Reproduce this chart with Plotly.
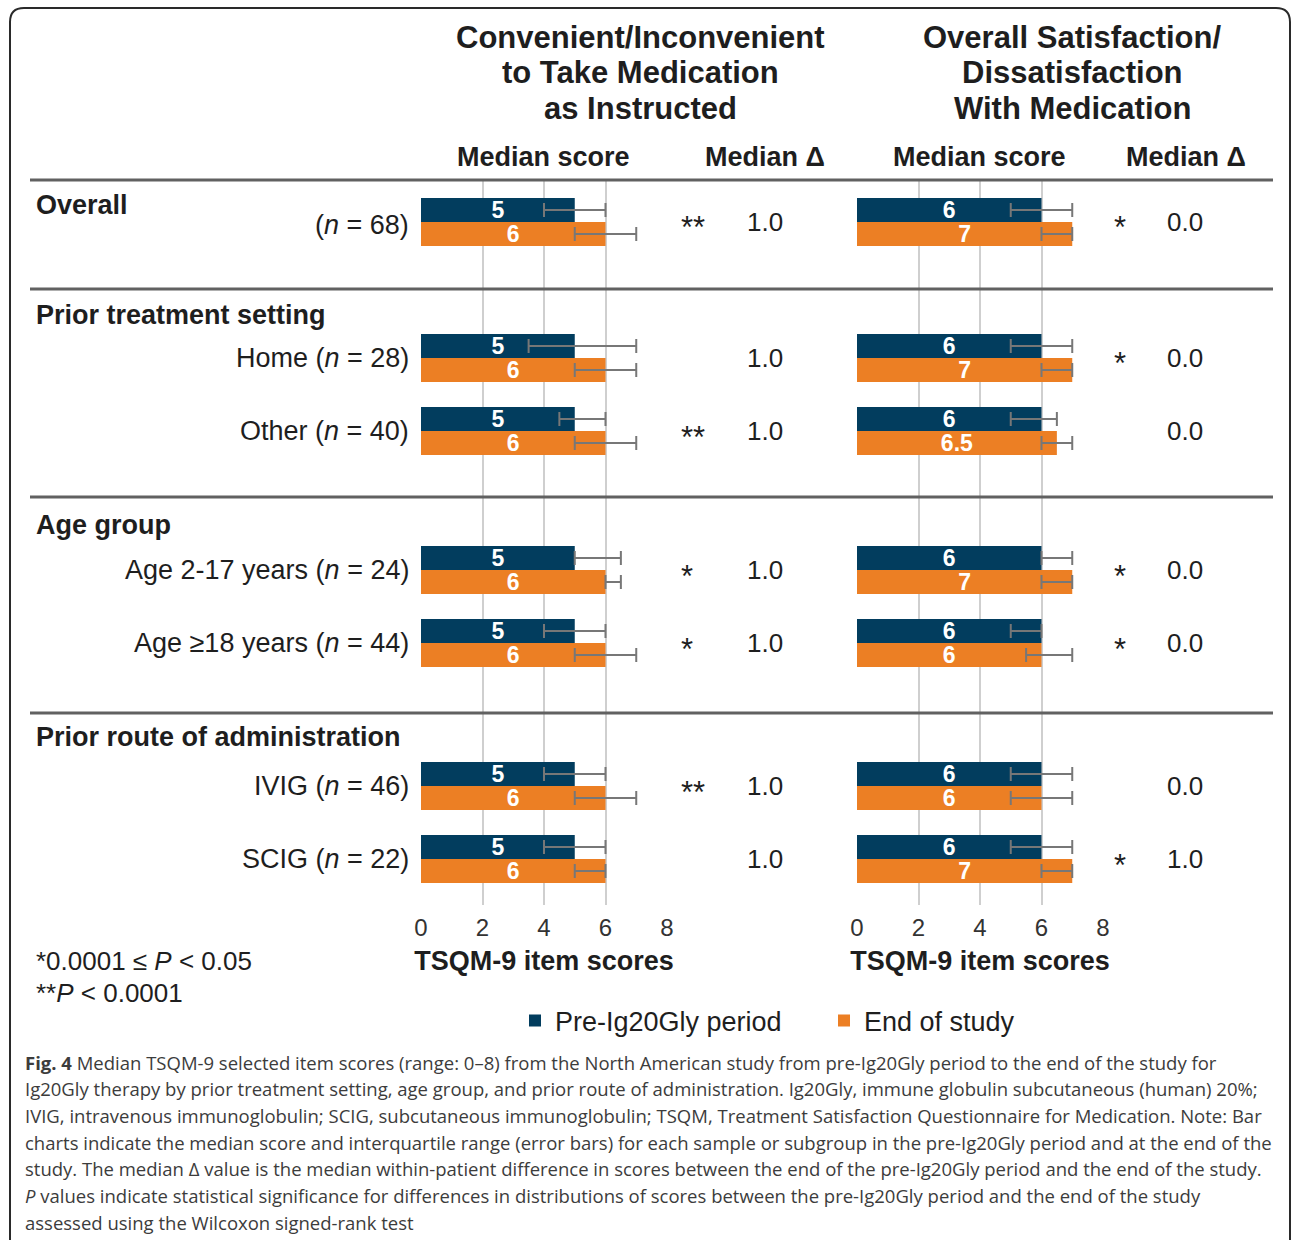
import plotly.graph_objects as go

W, H = 1292, 1240

# ---------------- data ----------------
group_titles = ["Overall", "Prior treatment setting", "Age group", "Prior route of administration"]
subgroups = ["", "Home", "Other", "Age 2-17 years", "Age \u226518 years", "IVIG", "SCIG"]
n_values = [68, 28, 40, 24, 44, 46, 22]

# Convenient/Inconvenient to take medication as instructed
conv_pre = [5, 5, 5, 5, 5, 5, 5]
conv_pre_q1 = [4, 3.5, 4.5, 5, 4, 4, 4]
conv_pre_q3 = [6, 7, 6, 6.5, 6, 6, 6]
conv_end = [6, 6, 6, 6, 6, 6, 6]
conv_end_q1 = [5, 5, 5, 6, 5, 5, 5]
conv_end_q3 = [7, 7, 7, 6.5, 7, 7, 6]
conv_delta = [1.0, 1.0, 1.0, 1.0, 1.0, 1.0, 1.0]
conv_sig = ["**", "", "**", "*", "*", "**", ""]

# Overall satisfaction/dissatisfaction with medication
sat_pre = [6, 6, 6, 6, 6, 6, 6]
sat_pre_q1 = [5, 5, 5, 6, 5, 5, 5]
sat_pre_q3 = [7, 7, 6.5, 7, 6, 7, 7]
sat_end = [7, 7, 6.5, 7, 6, 6, 7]
sat_end_q1 = [6, 6, 6, 6, 5.5, 5, 6]
sat_end_q3 = [7, 7, 7, 7, 7, 7, 7]
sat_delta = [0.0, 0.0, 0.0, 0.0, 0.0, 0.0, 1.0]
sat_sig = ["*", "*", "", "*", "*", "", "*"]

x_ticks = [0, 2, 4, 6, 8]
series_names = ["Pre-Ig20Gly period", "End of study"]

caption_lines = [
    "<b>Fig. 4</b> Median TSQM-9 selected item scores (range: 0\u20138) from the North American study from pre-Ig20Gly period to the end of the study for",
    "Ig20Gly therapy by prior treatment setting, age group, and prior route of administration. Ig20Gly, immune globulin subcutaneous (human) 20%;",
    "IVIG, intravenous immunoglobulin; SCIG, subcutaneous immunoglobulin; TSQM, Treatment Satisfaction Questionnaire for Medication. Note: Bar",
    "charts indicate the median score and interquartile range (error bars) for each sample or subgroup in the pre-Ig20Gly period and at the end of the",
    "study. The median \u0394 value is the median within-patient difference in scores between the end of the pre-Ig20Gly period and the end of the study.",
    "<i>P</i> values indicate statistical significance for differences in distributions of scores between the pre-Ig20Gly period and the end of the study",
    "assessed using the Wilcoxon signed-rank test",
]

# ---------------- layout constants (pixels) ----------------
FONT = "Arial, Liberation Sans, Helvetica, sans-serif"
CAP_FONT = "Open Sans, Noto Sans, sans-serif"
TXT = "#1e1e1e"
NAVY = "#023d5e"
ORANGE = "#ec7f24"
ERR = "#777777"

row_y = [222, 358, 431, 570, 643, 786, 859]
group_title_y = [205, 315, 525, 737]
separator_y = [180, 289, 497, 713]
plot_top, plot_bottom = 180, 905
bar_h = 24
panels = [(421, 667), (857, 1103)]


def px(x):
    return x / W


def py(y):
    return 1 - y / H


fig = go.Figure()

panel_data = [
    (conv_pre, conv_pre_q1, conv_pre_q3, conv_end, conv_end_q1, conv_end_q3),
    (sat_pre, sat_pre_q1, sat_pre_q3, sat_end, sat_end_q1, sat_end_q3),
]

for p, (pre, pre_q1, pre_q3, end, end_q1, end_q3) in enumerate(panel_data):
    xa = "x" if p == 0 else "x2"
    for s, (vals, q1, q3, color, offset) in enumerate([
        (pre, pre_q1, pre_q3, NAVY, -bar_h / 2),
        (end, end_q1, end_q3, ORANGE, bar_h / 2),
    ]):
        fig.add_trace(go.Bar(
            x=vals,
            y=[r + offset for r in row_y],
            width=bar_h,
            orientation="h",
            name=series_names[s],
            legendgroup=series_names[s],
            showlegend=(p == 0),
            marker=dict(color=color, line=dict(width=0)),
            texttemplate="%{x}",
            textposition="inside",
            insidetextanchor="middle",
            textangle=0,
            constraintext="none",
            textfont=dict(family=FONT, size=23, color="white", weight="bold"),
            error_x=dict(
                type="data", symmetric=False,
                array=[b - v for v, b in zip(vals, q3)],
                arrayminus=[v - a for v, a in zip(vals, q1)],
                color=ERR, thickness=2, width=7,
            ),
            cliponaxis=False,
            xaxis=xa, yaxis="y",
            hoverinfo="skip",
        ))

axis_common = dict(
    range=[0, 8], tickvals=x_ticks, showgrid=True, gridcolor="#cfcfcf", gridwidth=2,
    zeroline=False, showline=False, ticks="", anchor="y", automargin=False,
    tickfont=dict(family=FONT, size=24, color="#333333"), ticklabelstandoff=6,
    title=dict(text="<b>TSQM-9 item scores</b>", font=dict(family=FONT, size=27, color=TXT), standoff=11),
    fixedrange=True,
)

annotations = []


def add_text(x, y, text, size=27, bold=False, xanchor="center", color=TXT, family=FONT):
    annotations.append(dict(
        x=px(x), y=py(y), xref="paper", yref="paper", text=f"<b>{text}</b>" if bold else text,
        showarrow=False, xanchor=xanchor, yanchor="middle", borderpad=0,
        font=dict(family=family, size=size, color=color),
    ))


# column headers
for cx, lines in [(640, ["Convenient/Inconvenient", "to Take Medication", "as Instructed"]),
                  (1072, ["Overall Satisfaction/", "Dissatisfaction", "With Medication"])]:
    for i, line in enumerate(lines):
        add_text(cx, 38 + 35 * i, line, size=31, bold=True)

for cx in (543, 979):
    add_text(cx, 157, "Median score", bold=True)
for cx in (765, 1186):
    add_text(cx, 157, "Median \u0394", bold=True)

# group titles and subgroup labels
for title, gy in zip(group_titles, group_title_y):
    add_text(35, gy, title, bold=True, xanchor="left")

for i, (name, n) in enumerate(zip(subgroups, n_values)):
    label = (name + " " if name else "") + f"(<i>n</i> = {n})"
    add_text(410, row_y[i] + (3 if i == 0 else 0), label, xanchor="right")

# significance markers and median deltas
for i in range(len(row_y)):
    if conv_sig[i]:
        add_text(680, row_y[i] + 6, conv_sig[i], size=31, xanchor="left")
    add_text(765, row_y[i], f"{conv_delta[i]:.1f}", size=26)
    if sat_sig[i]:
        add_text(1113, row_y[i] + 6, sat_sig[i], size=31, xanchor="left")
    add_text(1185, row_y[i], f"{sat_delta[i]:.1f}", size=26)

# footnotes
add_text(35, 961, "*0.0001 \u2264 <i>P</i> &lt; 0.05", size=26, xanchor="left")
add_text(35, 993, "**<i>P</i> &lt; 0.0001", size=26, xanchor="left")

# caption
for i, line in enumerate(caption_lines):
    add_text(24, 1062 + 26.7 * i, line, size=18.5, xanchor="left", color="#3c3c3c", family=CAP_FONT)

# section separators and outer frame
shapes = []
for sy in separator_y:
    shapes.append(dict(type="line", xref="paper", yref="paper",
                       x0=px(30), x1=px(1273), y0=py(sy), y1=py(sy),
                       line=dict(color="#616161", width=3), layer="above"))

r = 14
path = (f"M{px(10)},{py(1250)} L{px(10)},{py(8 + r)} Q{px(10)},{py(8)} {px(10 + r)},{py(8)} "
        f"L{px(1290 - r)},{py(8)} Q{px(1290)},{py(8)} {px(1290)},{py(8 + r)} L{px(1290)},{py(1250)}")
shapes.append(dict(type="path", xref="paper", yref="paper", path=path,
                   line=dict(color="#2a2a2a", width=2)))

fig.update_layout(
    width=W, height=H,
    margin=dict(l=0, r=0, t=0, b=0, pad=0, autoexpand=False),
    paper_bgcolor="white", plot_bgcolor="white",
    barmode="overlay",
    font=dict(family=FONT, color=TXT),
    xaxis=dict(domain=[px(panels[0][0]), px(panels[0][1])], **axis_common),
    xaxis2=dict(domain=[px(panels[1][0]), px(panels[1][1])], **axis_common),
    yaxis=dict(domain=[py(plot_bottom), py(plot_top)], range=[plot_bottom, plot_top],
               visible=False, fixedrange=True),
    legend=dict(orientation="h", x=px(515), xanchor="left", y=py(1021), yanchor="middle",
                font=dict(family=FONT, size=27, color=TXT), bgcolor="rgba(0,0,0,0)",
                traceorder="normal", entrywidthmode="pixels", entrywidth=264),
    annotations=annotations,
    shapes=shapes,
    showlegend=True,
)

fig.write_html("out.html")
